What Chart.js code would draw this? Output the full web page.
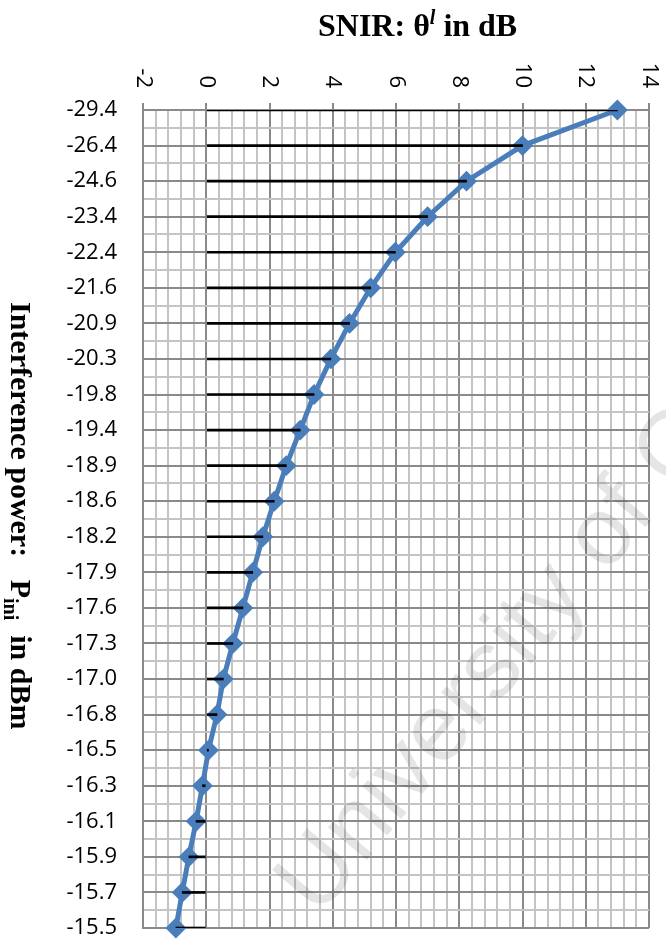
<!DOCTYPE html>
<html>
<head>
<meta charset="utf-8">
<script src="https://cdn.jsdelivr.net/npm/chart.js@4"></script>
<style>
  html, body { margin: 0; padding: 0; background: #fff; }
  #wrap { width: 666px; height: 948px; position: relative; }
</style>
</head>
<body>
<div id="wrap"><canvas id="chart"></canvas></div>
<script>
// interference power categories (dBm), top to bottom
const categories = ['-29.4','-26.4','-24.6','-23.4','-22.4','-21.6','-20.9','-20.3','-19.8','-19.4',
  '-18.9','-18.6','-18.2','-17.9','-17.6','-17.3','-17.0','-16.8','-16.5','-16.3','-16.1','-15.9','-15.7','-15.5'];
// SNIR in dB
const snir = [13.0, 10.0, 8.23, 7.0, 5.98, 5.2, 4.53, 3.94, 3.41, 2.97,
  2.53, 2.15, 1.79, 1.47, 1.16, 0.84, 0.54, 0.34, 0.07, -0.12, -0.32, -0.55, -0.76, -0.96];
const xTickLabels = [-2, 0, 2, 4, 6, 8, 10, 12, 14];

const topTitle = [['SNIR: θ', 'bold 32px "Liberation Serif"', 0], ['l', 'italic bold 20px "Liberation Serif"', -12], [' in dB', 'bold 32px "Liberation Serif"', 0]];
const sideTitle = [['Interference power:   P', 'bold 30px "Liberation Serif"', 0], ['ini', 'bold 20px "Liberation Serif"', 7], ['  in dBm', 'bold 30px "Liberation Serif"', 0]];

const MAJOR = '#8a8a8a', MINOR = '#c4c4c4', BLUE = '#4a7ebb';
const isMajorX = v => Math.abs(v % 2) < 1e-9;
const isMajorY = v => Math.abs(v - Math.round(v)) < 1e-9;

function drawSegments(ctx, segs){
  let x = 0;
  segs.forEach(([t, f, dy]) => {
    ctx.font = f;
    ctx.fillText(t, x, dy);
    x += ctx.measureText(t).width;
  });
}

const decor = {
  id: 'decor',
  afterDraw(chart){
    const ctx = chart.ctx;
    const sx = chart.scales.x;
    ctx.save();
    ctx.fillStyle = '#000';
    // value axis labels, rotated clockwise
    ctx.font = '22px "Open Sans"';
    ctx.textAlign = 'right';
    ctx.textBaseline = 'middle';
    xTickLabels.forEach(v => {
      ctx.save();
      ctx.translate(sx.getPixelForValue(v), 88);
      ctx.rotate(Math.PI / 2);
      ctx.fillText(String(v), 0, 0);
      ctx.restore();
    });
    // titles
    ctx.textAlign = 'left';
    ctx.textBaseline = 'alphabetic';
    ctx.save();
    ctx.translate(318, 36);
    drawSegments(ctx, topTitle);
    ctx.restore();
    ctx.save();
    ctx.translate(11, 302);
    ctx.rotate(Math.PI / 2);
    drawSegments(ctx, sideTitle);
    ctx.restore();
    // watermark
    ctx.save();
    ctx.translate(318, 918);
    ctx.rotate(-50 * Math.PI / 180);
    ctx.font = '96px "Liberation Sans"';
    ctx.fillStyle = 'rgba(0,0,0,0.10)';
    ctx.fillText('University of Cape Town', 0, 0);
    ctx.restore();
    ctx.restore();
  }
};

new Chart(document.getElementById('chart'), {
  type: 'line',
  data: {
    datasets: [
      {
        type: 'bar',
        order: 0,
        data: snir.map((v, i) => ({ x: [0, v], y: i })),
        backgroundColor: '#000',
        barThickness: 2
      },
      {
        type: 'line',
        order: 1,
        data: snir.map((v, i) => ({ x: v, y: i })),
        borderColor: BLUE,
        backgroundColor: BLUE,
        borderWidth: 5,
        pointStyle: 'rectRot',
        pointRadius: 9,
        pointBorderWidth: 2,
        pointBackgroundColor: BLUE,
        pointBorderColor: BLUE,
        tension: 0,
        clip: false
      }
    ]
  },
  options: {
    indexAxis: 'y',
    responsive: true,
    maintainAspectRatio: false,
    animation: false,
    layout: { autoPadding: false, padding: { left: 0, top: 0, right: 17, bottom: 20 } },
    plugins: { legend: { display: false }, tooltip: { enabled: false }, title: { display: false } },
    scales: {
      x: {
        type: 'linear',
        position: 'top',
        min: -2, max: 14,
        ticks: { display: false, stepSize: 0.4, maxTicksLimit: 100 },
        grid: {
          color: c => isMajorX(c.tick.value) ? MAJOR : MINOR,
          tickColor: c => isMajorX(c.tick.value) ? MAJOR : 'rgba(0,0,0,0)',
          lineWidth: 2,
          tickLength: 7
        },
        border: { color: MAJOR, width: 2 },
        afterFit: s => { s.height = 110; s.paddingLeft = 0; s.paddingRight = 0; }
      },
      y: {
        type: 'linear',
        reverse: true,
        min: 0, max: categories.length - 1,
        offset: false,
        ticks: {
          stepSize: 0.5,
          autoSkip: false,
          maxTicksLimit: 100,
          padding: 26,
          color: '#000',
          font: { family: '"Open Sans"', size: 22 },
          callback: v => isMajorY(v) ? categories[Math.round(v)] : ''
        },
        grid: {
          offset: false,
          drawTicks: false,
          color: c => isMajorY(c.tick.value) ? MAJOR : MINOR,
          lineWidth: 2
        },
        border: { color: MAJOR, width: 2 },
        afterFit: s => { s.width = 143; s.paddingTop = 0; s.paddingBottom = 0; }
      }
    }
  },
  plugins: [decor]
});
</script>
</body>
</html>
